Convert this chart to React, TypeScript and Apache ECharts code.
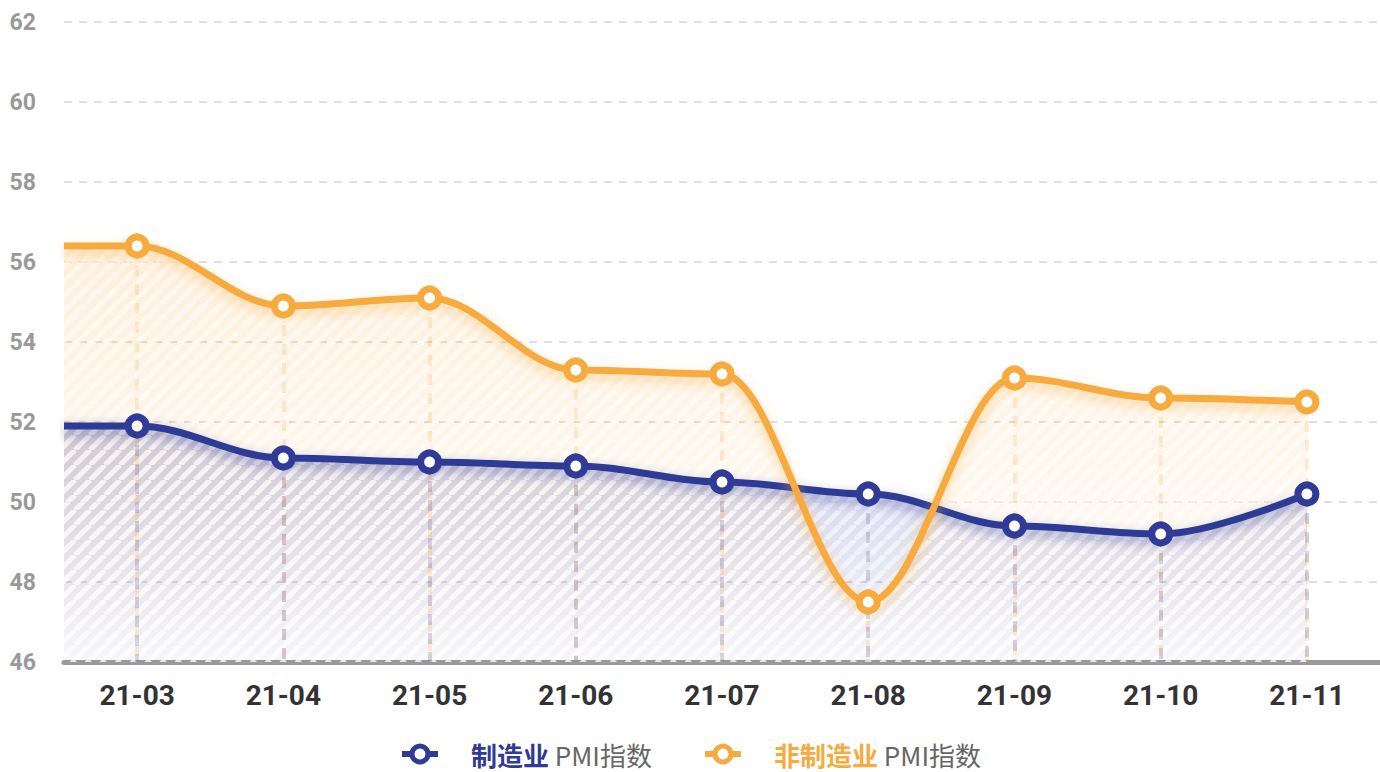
import React, { useEffect, useRef } from "react";
import * as echarts from "echarts";

const categories = ["21-03", "21-04", "21-05", "21-06", "21-07", "21-08", "21-09", "21-10", "21-11"];
const mfgValues = [51.9, 51.1, 51.0, 50.9, 50.5, 50.2, 49.4, 49.2, 50.2];
const nonMfgValues = [56.4, 54.9, 55.1, 53.3, 53.2, 47.5, 53.1, 52.6, 52.5];
const yTicks = { min: 46, max: 62, interval: 2 };
const seriesNames = ["制造业", "非制造业"];

const NAVY = "#2F3B96";
const ORANGE = "#F7AA3E";

function makeStripe(): HTMLCanvasElement {
  const s = 15;
  const c = document.createElement("canvas");
  c.width = s;
  c.height = s;
  const ctx = c.getContext("2d")!;
  ctx.strokeStyle = "rgba(255,255,255,0.75)";
  ctx.lineWidth = 5;
  ctx.beginPath();
  for (let k = -1; k <= 1; k++) {
    ctx.moveTo(k * s, s);
    ctx.lineTo(k * s + s, 0);
  }
  ctx.stroke();
  return c;
}

function toPoints(vals: number[]) {
  return [
    { value: [-0.5, vals[0]], symbol: "none" },
    ...vals.map((v, i) => ({ value: [i, v] })),
  ];
}

function dropLines(vals: number[], color: string, z: number) {
  return {
    silent: true,
    symbol: ["none", "none"],
    z,
    label: { show: false },
    lineStyle: { color, width: 4, type: [11, 8] as any },
    emphasis: { disabled: true },
    data: vals.map((v, i) => [
      { coord: [i, v] },
      { coord: [i, yTicks.min] },
    ]),
  };
}

export default function App() {
  const ref = useRef<HTMLDivElement>(null);
  useEffect(() => {
    if (!ref.current) return;
    const chart = echarts.init(ref.current, undefined, { renderer: "svg" });
    const stripe = makeStripe();
    const pattern = { image: stripe, repeat: "repeat", imageWidth: 15, imageHeight: 15 } as any;

    const smoothCfg = { smooth: 0.35, smoothMonotone: "x" as const };

    const areaSeries = (name: string, vals: number[], grad: any, dropColor: string, dropZ: number) => [
      {
        name: name + "-area",
        type: "line",
        xAxisIndex: 1,
        z: 1,
        ...smoothCfg,
        data: toPoints(vals),
        symbol: "none",
        silent: true,
        lineStyle: { width: 0, opacity: 0 },
        areaStyle: { color: grad, origin: "start" },
        markLine: dropLines(vals, dropColor, dropZ),
      },
      {
        name: name + "-pattern",
        type: "line",
        xAxisIndex: 1,
        z: 1,
        ...smoothCfg,
        data: toPoints(vals),
        symbol: "none",
        silent: true,
        lineStyle: { width: 0, opacity: 0 },
        areaStyle: { color: pattern, origin: "start" },
      },
    ];

    const lineSeries = (name: string, vals: number[], color: string, shadow: string) => ({
      name,
      type: "line",
      xAxisIndex: 1,
      z: 5,
      ...smoothCfg,
      data: toPoints(vals),
      symbol: "circle",
      symbolSize: 18,
      itemStyle: { color: "#fff", borderColor: color, borderWidth: 7 },
      lineStyle: { color, width: 7, shadowBlur: 12, shadowColor: shadow, shadowOffsetY: 5 },
    });

    const navyGrad = {
      type: "linear", x: 0, y: 0, x2: 0, y2: 1,
      colorStops: [
        { offset: 0, color: "rgba(80,84,170,0.42)" },
        { offset: 1, color: "rgba(90,96,200,0.07)" },
      ],
    };
    const orangeGrad = {
      type: "linear", x: 0, y: 0, x2: 0, y2: 1,
      colorStops: [
        { offset: 0, color: "rgba(247,170,62,0.28)" },
        { offset: 1, color: "rgba(247,170,62,0.02)" },
      ],
    };

    chart.setOption({
      animation: false,
      backgroundColor: "#fff",
      grid: { left: 64, right: 0, top: 22, bottom: 110, containLabel: false },
      legend: {
        data: seriesNames,
        bottom: 0,
        left: "center",
        itemWidth: 36,
        itemHeight: 20,
        itemGap: 50,
        lineStyle: { width: 6 },
        itemStyle: { borderWidth: 5 },
        formatter: (name: string) =>
          name === seriesNames[0] ? `{n1|${name}} {p|PMI指数}` : `{n2|${name}} {p|PMI指数}`,
        textStyle: {
          fontFamily: "Noto Sans CJK SC",
          fontSize: 26,
          rich: {
            n1: { color: NAVY, fontSize: 26, fontWeight: "bold", fontFamily: "Noto Sans CJK SC", padding: [0, 0, 0, 28] },
            n2: { color: ORANGE, fontSize: 26, fontWeight: "bold", fontFamily: "Noto Sans CJK SC", padding: [0, 0, 0, 28] },
            p: { color: "#666", fontSize: 26, fontFamily: "Noto Sans CJK SC" },
          },
        },
      },
      xAxis: [
        {
          type: "category",
          data: categories,
          boundaryGap: true,
          axisLine: { show: true, lineStyle: { color: "#9a9a9a", width: 5 } },
          axisTick: { show: false },
          splitLine: { show: false },
          axisLabel: {
            color: "#333",
            fontSize: 28,
            fontWeight: "bold",
            fontFamily: "Roboto",
            margin: 19,
          },
        },
        {
          type: "value",
          min: -0.5,
          max: categories.length - 0.5,
          show: false,
          splitLine: { show: false },
        },
      ],
      yAxis: {
        type: "value",
        min: yTicks.min,
        max: yTicks.max,
        interval: yTicks.interval,
        axisLine: { show: false },
        axisTick: { show: false },
        axisLabel: {
          color: "#999",
          fontSize: 23,
          fontWeight: "bold",
          fontFamily: "Roboto",
          margin: 28,
        },
        splitLine: { show: true, lineStyle: { color: "#e0e0e0", width: 2, type: [8, 7] as any } },
      },
      series: [
        ...areaSeries("mfg", mfgValues, navyGrad, "rgba(120,110,160,0.28)", 3),
        ...areaSeries("nonmfg", nonMfgValues, orangeGrad, "rgba(247,170,62,0.2)", 2),
        lineSeries(seriesNames[0], mfgValues, NAVY, "rgba(47,59,150,0.5)"),
        lineSeries(seriesNames[1], nonMfgValues, ORANGE, "rgba(247,170,62,0.5)"),
      ],
    } as any);
    return () => chart.dispose();
  }, []);
  return (
    <div
      ref={ref}
      style={{ position: "fixed", left: 0, top: 0, width: 1380, height: 772 }}
    />
  );
}
